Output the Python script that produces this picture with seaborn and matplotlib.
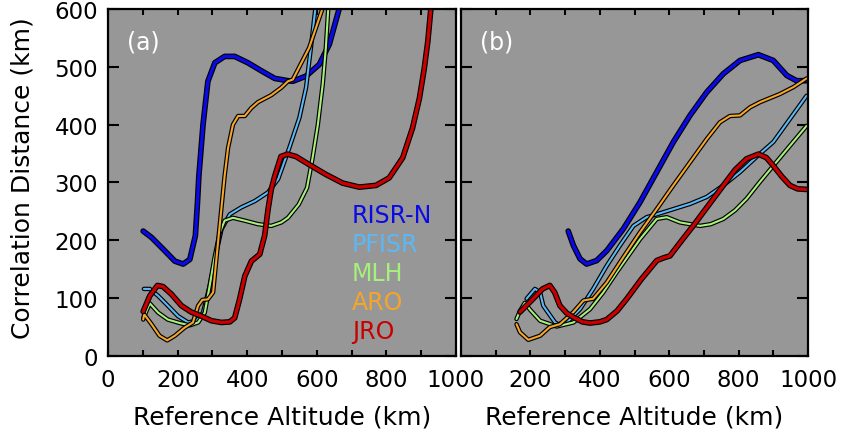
import numpy as np
import pandas as pd
import matplotlib
matplotlib.use("Agg")
import matplotlib.pyplot as plt
import matplotlib.patheffects as pe
import seaborn as sns

# ---- data: correlation distance (km) vs reference altitude (km) ----
stations = ["RISR-N", "PFISR", "MLH", "ARO", "JRO"]
colors = ["#0a0ae6", "#5cb8f5", "#a8f07c", "#f5a52a", "#c80000"]
widths = [2.4, 1.5, 1.5, 1.5, 2.4]

# panel (a)
risr_a_x = [101, 125, 163, 192, 216, 235, 251, 257, 261, 273, 287, 307, 335, 364, 402, 441, 479, 517, 531, 569, 607, 636, 665]
risr_a_y = [216, 205, 182, 164, 159, 167, 208, 265, 311, 400, 475, 507, 518, 518, 507, 493, 480, 476, 475, 484, 504, 539, 602]
pfisr_a_x = [103, 120, 144, 172, 201, 230, 254, 273, 292, 307, 326, 350, 383, 422, 460, 489, 521, 550, 569, 583, 596]
pfisr_a_y = [116, 116, 104, 87, 69, 58, 61, 75, 121, 167, 219, 245, 257, 268, 283, 306, 360, 412, 464, 533, 602]
mlh_a_x = [102, 120, 144, 172, 206, 235, 259, 278, 292, 307, 321, 335, 359, 393, 431, 469, 498, 517, 548, 572, 588, 603, 617, 626, 633]
mlh_a_y = [66, 91, 75, 63, 57, 53, 58, 75, 121, 173, 213, 234, 239, 234, 228, 225, 231, 239, 262, 291, 343, 400, 470, 533, 602]
aro_a_x = [101, 104, 125, 148, 170, 192, 220, 244, 259, 271, 287, 302, 316, 335, 345, 359, 374, 393, 412, 431, 469, 498, 517, 531, 578, 617]
aro_a_y = [63, 72, 55, 35, 27, 35, 49, 58, 87, 97, 98, 110, 196, 311, 360, 400, 415, 415, 429, 439, 451, 464, 475, 478, 533, 602]
jro_a_x = [101, 120, 142, 158, 182, 211, 239, 268, 297, 326, 350, 364, 378, 393, 412, 436, 450, 460, 469, 479, 497, 516, 540, 578, 626, 674, 722, 770, 808, 847, 875, 895, 909, 919, 928]
jro_a_y = [77, 104, 122, 120, 107, 87, 76, 69, 61, 58, 59, 66, 98, 138, 164, 176, 208, 254, 288, 311, 345, 349, 345, 331, 314, 299, 292, 295, 308, 343, 394, 446, 498, 544, 602]

# panel (b)
risr_b_x = [309, 324, 343, 362, 391, 420, 468, 516, 564, 612, 660, 708, 756, 804, 857, 900, 939, 967, 996]
risr_b_y = [216, 191, 168, 159, 165, 182, 220, 266, 318, 370, 416, 456, 488, 511, 521, 511, 485, 476, 476]
pfisr_b_x = [189, 213, 228, 237, 271, 280, 305, 343, 381, 420, 458, 497, 535, 564, 612, 660, 708, 756, 804, 862, 900, 948, 996]
pfisr_b_y = [99, 116, 110, 87, 58, 55, 58, 81, 116, 156, 191, 225, 240, 245, 254, 263, 275, 295, 318, 350, 370, 410, 450]
mlh_b_x = [160, 170, 184, 199, 228, 276, 324, 372, 410, 449, 516, 564, 593, 631, 689, 720, 756, 790, 823, 860, 900, 950, 996]
mlh_b_y = [64, 78, 92, 80, 61, 51, 58, 81, 110, 145, 202, 237, 240, 231, 225, 228, 237, 252, 272, 300, 329, 365, 398]
aro_b_x = [160, 170, 194, 228, 256, 285, 324, 353, 381, 420, 468, 516, 564, 612, 660, 708, 746, 775, 804, 833, 862, 919, 958, 996]
aro_b_y = [55, 41, 28, 35, 50, 55, 76, 96, 99, 127, 171, 214, 254, 295, 335, 375, 404, 415, 416, 430, 439, 453, 465, 480]
jro_b_x = [170, 208, 235, 256, 270, 285, 305, 324, 350, 372, 400, 420, 450, 478, 520, 564, 585, 602, 630, 669, 710, 756, 790, 823, 857, 880, 900, 925, 948, 970, 996]
jro_b_y = [76, 99, 116, 122, 110, 87, 74, 67, 59, 57, 59, 63, 78, 99, 133, 165, 170, 173, 195, 225, 258, 295, 322, 341, 349, 343, 329, 310, 295, 289, 288]

panel_a = [(risr_a_x, risr_a_y), (pfisr_a_x, pfisr_a_y), (mlh_a_x, mlh_a_y),
           (aro_a_x, aro_a_y), (jro_a_x, jro_a_y)]
panel_b = [(risr_b_x, risr_b_y), (pfisr_b_x, pfisr_b_y), (mlh_b_x, mlh_b_y),
           (aro_b_x, aro_b_y), (jro_b_x, jro_b_y)]

x_ticks = list(range(0, 1001, 100))
y_ticks = list(range(0, 601, 100))

sns.set_theme(style="ticks")
plt.rcParams['font.family'] = ['DejaVu Sans']
plt.rcParams['axes.linewidth'] = 1.6
plt.rcParams['text.color'] = 'black'
plt.rcParams['axes.labelcolor'] = 'black'
plt.rcParams['xtick.color'] = 'black'
plt.rcParams['ytick.color'] = 'black'

fig = plt.figure(figsize=(8.46, 4.31), dpi=100)
ax_a = fig.add_axes([0.1277, 0.1717, 0.4113, 0.8051])
ax_b = fig.add_axes([0.5449, 0.1717, 0.4102, 0.8051])


def draw_panel(ax, series, tag, show_ylabels, show_zero):
    ax.set_facecolor("#979797")
    for name, (xs, ys), c, lw in zip(stations, series, colors, widths):
        df = pd.DataFrame({"alt": xs, "dist": ys})
        sns.lineplot(data=df, x="alt", y="dist", ax=ax, color=c, lw=lw,
                     sort=False, estimator=None,
                     solid_joinstyle="round", solid_capstyle="round",
                     path_effects=[pe.Stroke(linewidth=lw + 1.7, foreground="black"),
                                   pe.Normal()])
    ax.set_xlim(0, 1000)
    ax.set_ylim(0, 600)
    ax.set_xticks(x_ticks)
    xlabels = [str(v) if v % 200 == 0 else "" for v in x_ticks]
    if not show_zero:
        xlabels[0] = ""
    ax.set_xticklabels(xlabels)
    ax.set_yticks(y_ticks)
    if show_ylabels:
        ax.set_yticklabels([str(v) for v in y_ticks])
        ax.set_ylabel("Correlation Distance (km)", fontsize=18, color="black")
        ax.yaxis.set_label_coords(-0.245, 0.515)
        ax.yaxis.label.set_va("center")
    else:
        ax.set_yticklabels([])
        ax.set_ylabel("")
    ax.tick_params(axis="x", direction="in", length=4.5, width=1.5,
                   top=True, bottom=True, labelsize=16.5, pad=9, colors="black")
    ax.tick_params(axis="y", direction="in", length=8, width=1.5,
                   left=True, right=True, labelsize=16.5, pad=7, colors="black")
    ax.set_xlabel("Reference Altitude (km)", fontsize=18, color="black")
    ax.xaxis.set_label_coords(0.5, -0.173)
    ax.xaxis.label.set_va("center")
    for s in ax.spines.values():
        s.set_color("black")
        s.set_linewidth(1.6)
    ax.text(55, 543, tag, color="white", fontsize=17, va="center", ha="left")


draw_panel(ax_a, panel_a, "(a)", True, True)
draw_panel(ax_b, panel_b, "(b)", False, False)

# station key written in the series colours
for i, (name, c) in enumerate(zip(stations, colors)):
    ax_a.text(701, 244 - 50 * i, name, color=c, fontsize=17,
              va="center", ha="left")

fig.savefig("out.png", dpi=100)
